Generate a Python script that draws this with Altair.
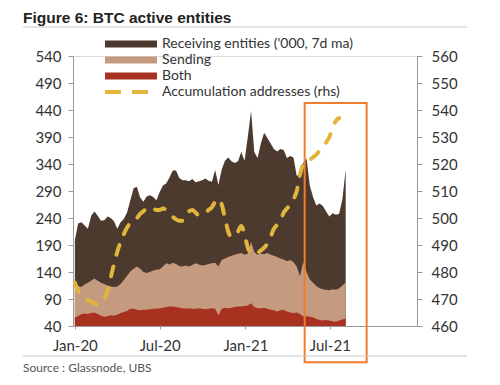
import altair as alt
import pandas as pd

# ---------------- data (weekly) ----------------
start_date = "2020-01-01"
receiving = [199,230,232,226,220,244,252,244,235,236,
             243,240,234,220,232,238,250,273,295,298,
             278,270,280,282,279,273,288,300,304,315,
             328,328,314,310,310,308,312,306,308,310,
             313,309,307,329,301,330,346,352,345,342,
             345,362,346,390,438,362,351,378,398,388,
             378,368,363,368,366,351,355,352,318,323,
             342,350,300,279,263,267,262,252,243,249,
             246,248,275,330]
sending = [118,114,112,117,120,124,128,124,120,118,
           115,113,112,113,118,125,133,141,146,150,
           146,140,138,140,143,144,145,150,156,154,
           157,155,151,150,152,150,153,156,154,152,
           153,155,156,157,150,162,165,168,170,172,
           174,175,172,174,196,177,172,174,173,175,
           172,170,168,165,163,160,162,158,150,132,
           158,140,126,120,114,110,108,107,106,108,
           107,110,115,121]
both = [56,58,62,63,62,64,65,62,59,57,
        58,60,59,61,64,66,68,72,72,70,
        69,70,70,71,72,72,73,74,75,76,
        76,75,74,73,72,73,72,72,73,72,
        71,72,73,72,60,72,74,73,74,75,
        76,76,77,78,82,75,73,73,74,72,
        70,69,67,69,70,67,65,64,65,62,
        58,58,57,56,53,51,50,51,50,49,
        48,50,52,54]
accumulation = [476,473,471,470,469.5,469,468.5,468,468.5,470,
                473,478,483,487.5,491,494,496.5,498,499,500,
                501.5,502.5,503.5,504,503.5,503,503,503.5,503,502,
                500.5,499.5,499,499,501,502.5,503,502,501,501.5,
                502,503,504,506,507,505,500,495,493,493.5,
                495,497,494,489,487,486.5,487,488,489,490.5,
                493,496,497.5,499,502,503.5,505,507,510,516,
                520,521,521.5,522.5,523.5,525,526.5,528,530,533.5,
                536,537]

legend_labels = ["Receiving entities ('000, 7d ma)", "Sending", "Both",
                 "Accumulation addresses (rhs)"]
left_ticks = [40, 90, 140, 190, 240, 290, 340, 390, 440, 490, 540]
right_ticks = [460, 470, 480, 490, 500, 510, 520, 530, 540, 550, 560]
title_text = "Figure 6: BTC active entities"
source_text = "Source : Glassnode, UBS"
# highlighted window (orange box), in data units
box_x = ["2021-05-08", "2021-09-18"]
box_y = [453, -27]

# ---------------- style ----------------
C_RECV = "#4c3a2f"
C_SEND = "#c59b80"
C_BOTH = "#a8321f"
C_ACC = "#e1b43b"
C_BOX = "#f07d2c"
FONT = "Lato"
TXT = "#333333"
AX = "#9a9a9a"

dates = pd.date_range(start_date, periods=len(receiving), freq="7D")
df = pd.DataFrame({"date": dates, "Receiving": receiving,
                   "Sending": sending, "Both": both})
acc_df = pd.DataFrame({"date": dates[:len(accumulation)], "acc": accumulation})
box_df = pd.DataFrame({"x1": [box_x[0]], "x2": [box_x[1]],
                       "y1": [box_y[0]], "y2": [box_y[1]]})

x_scale = alt.Scale(domain=[alt.DateTime(year=2019, month=12, date=28),
                            alt.DateTime(year=2022, month=1, date=4)])
x_axis = alt.Axis(values=[alt.DateTime(year=2020, month=1, date=1),
                          alt.DateTime(year=2020, month=7, date=1),
                          alt.DateTime(year=2021, month=1, date=1),
                          alt.DateTime(year=2021, month=7, date=1)],
                  format="%b-%y", title=None, grid=False,
                  domainColor=AX, tickColor=AX, tickSize=3,
                  labelFont=FONT, labelFontSize=15, labelColor=TXT,
                  labelPadding=9)
yl = alt.Scale(domain=[40, 540], nice=False, zero=False)
yr = alt.Scale(domain=[460, 560], nice=False, zero=False)
left_axis = alt.Axis(values=left_ticks, title=None, grid=False,
                     domainColor=AX, tickColor=AX, tickSize=5,
                     labelFont=FONT, labelFontSize=15, labelColor=TXT,
                     labelPadding=7)
right_axis = alt.Axis(values=right_ticks, title=None, grid=False, orient="right",
                      domainColor=AX, tickColor=AX, tickSize=5,
                      labelFont=FONT, labelFontSize=15, labelColor=TXT,
                      labelPadding=9)

xe = alt.X("date:T", scale=x_scale, axis=x_axis)
base = alt.Chart(df)

recv = base.mark_area(color=C_RECV).encode(
    x=xe, y=alt.Y("Receiving:Q", scale=yl, axis=left_axis), y2=alt.datum(40))
send = base.mark_area(color=C_SEND).encode(
    x=xe, y=alt.Y("Sending:Q", scale=yl, axis=left_axis), y2=alt.datum(40))
bth = base.mark_area(color=C_BOTH).encode(
    x=xe, y=alt.Y("Both:Q", scale=yl, axis=left_axis), y2=alt.datum(40))
box = alt.Chart(box_df).mark_rect(fillOpacity=0, stroke=C_BOX, strokeWidth=2).encode(
    x=alt.X("x1:T", scale=x_scale, axis=x_axis), x2="x2:T",
    y=alt.Y("y1:Q", scale=yl, axis=left_axis), y2="y2:Q")

left = alt.layer(recv, send, bth, box)

acc = alt.Chart(acc_df).mark_line(color=C_ACC, strokeWidth=4, strokeDash=[10, 12],
                                  strokeCap="round", interpolate="monotone").encode(
    x=xe, y=alt.Y("acc:Q", scale=yr, axis=right_axis))

main = alt.layer(left, acc).resolve_scale(y="independent")

# ---------------- legend, title, source (decoration) ----------------
one = pd.DataFrame({"a": [0]})
leg_rows = [-12, 4, 20, 36]
legend_layers = []
for lab, col, ry in zip(legend_labels[:3], [C_RECV, C_SEND, C_BOTH], leg_rows[:3]):
    legend_layers.append(alt.Chart(one).mark_rect(color=col).encode(
        x=alt.value(32), x2=alt.value(84), y=alt.value(ry - 3.5), y2=alt.value(ry + 3.5)))
legend_layers.append(alt.Chart(one).mark_rule(color=C_ACC, strokeWidth=4,
                                              strokeDash=[16, 11]).encode(
    x=alt.value(32), x2=alt.value(75), y=alt.value(leg_rows[3])))
for lab, ry in zip(legend_labels, leg_rows):
    legend_layers.append(alt.Chart(one).mark_text(
        text=lab, align="left", baseline="middle", font=FONT, fontSize=14,
        color=TXT).encode(x=alt.value(89), y=alt.value(ry)))

title = alt.Chart(one).mark_text(text=title_text, align="left", baseline="alphabetic",
                                 font="Liberation Sans", fontSize=15.5, fontWeight="bold",
                                 color="#222222").encode(x=alt.value(-50), y=alt.value(-33.5))
top_line = alt.Chart(one).mark_rule(color="#c8c8c8", strokeWidth=1).encode(
    x=alt.value(-50), x2=alt.value(394), y=alt.value(-29))
bot_line = alt.Chart(one).mark_rule(color="#c8c8c8", strokeWidth=1).encode(
    x=alt.value(-50), x2=alt.value(394), y=alt.value(300))
source = alt.Chart(one).mark_text(text=source_text, align="left", baseline="middle",
                                  font=FONT, fontSize=12, color="#555555").encode(
    x=alt.value(-50), y=alt.value(312))

chart = alt.layer(main, *legend_layers, title, top_line, bot_line, source).properties(
    width=344, height=270,
    autosize=alt.AutoSizeParams(type="none"),
    padding={"left": 65, "top": 48, "right": 75, "bottom": 50},
).configure_view(stroke=None).configure(background="white")

chart.save("out.html", embed_options={"renderer": "svg", "actions": False})
